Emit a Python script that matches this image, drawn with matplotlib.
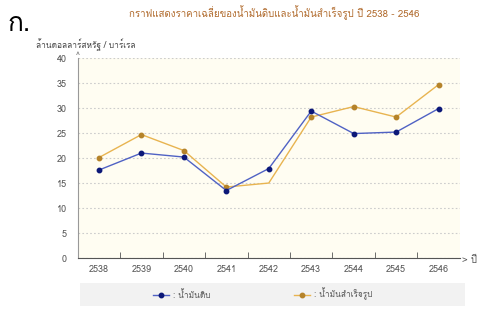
import matplotlib
matplotlib.use('Agg')
import matplotlib.pyplot as plt
from matplotlib import font_manager, ft2font
from matplotlib.patches import Rectangle

# find a font that has Thai glyphs
thai_font = None
for f in font_manager.fontManager.ttflist:
    try:
        if 0x0E01 in ft2font.FT2Font(f.fname).get_charmap():
            thai_font = f.name
            break
    except Exception:
        pass
if thai_font:
    plt.rcParams['font.family'] = [thai_font, 'DejaVu Sans']

years = ['2538', '2539', '2540', '2541', '2542', '2543', '2544', '2545', '2546']
crude = [17.6, 21.0, 20.2, 13.5, 17.9, 29.4, 24.9, 25.2, 29.9]
refined = [20.1, 24.7, 21.5, 14.2, 15.0, 28.2, 30.3, 28.2, 34.7]
labels = [': น้ำมันดิบ', ': น้ำมันสำเร็จรูป']
title = 'กราฟแสดงราคาเฉลี่ยของน้ำมันดิบและน้ำมันสำเร็จรูป ปี 2538 - 2546'
ylabel = 'ล้านดอลลาร์สหรัฐ / บาร์เรล'

fig = plt.figure(figsize=(4.78, 3.09), dpi=100)
ax = fig.add_axes([0.1626, 0.165, 0.7994, 0.647])
ax.set_facecolor('#fffdf2')

x = list(range(len(years)))
l1, = ax.plot(x, crude, color='#5062c4', lw=1, marker='o', ms=3.2,
              mfc='#0c1878', mec='#0c1878', label=labels[0], zorder=3)
l2, = ax.plot(x, refined, color='#e8b450', lw=1, marker='o', ms=3.2,
              mfc='#b5832a', mec='#b5832a', markevery=[0, 1, 2, 3, 5, 6, 7, 8],
              label=labels[1], zorder=2)

ax.set_xlim(-0.5, len(years) - 0.5)
ax.set_ylim(0, 40)
ax.set_yticks(range(0, 41, 5))
ax.set_xticks(x)
ax.set_xticklabels(years)
ax.set_xticks([i + 0.5 for i in x[:-1]], minor=True)
ax.tick_params(axis='x', which='major', length=0, labelsize=6.5, colors='#555555', pad=5)
ax.tick_params(axis='x', which='minor', length=4, direction='in', color='#555555')
ax.tick_params(axis='y', length=0, labelsize=6.5, colors='#555555', pad=8)
ax.grid(axis='y', ls=(0, (1.5, 2)), color='#cccccc', lw=0.8)
for s in ['top', 'right']:
    ax.spines[s].set_visible(False)
ax.spines['left'].set_color('#999999')
ax.spines['bottom'].set_color('#555555')

fig.text(0.015, 0.9, 'ก.', fontsize=19, color='black')
fig.text(0.574, 0.945, title, fontsize=7, color='#b06a2c', ha='center')
fig.text(0.075, 0.845, ylabel, fontsize=6, color='#444444')
fig.text(0.158, 0.812, '^', fontsize=6, color='#777777')
fig.text(0.966, 0.15, '> ปี', fontsize=7, color='#555555')

fig.patches.append(Rectangle((0.167, 0.01), 0.805, 0.075, transform=fig.transFigure,
                             facecolor='#f2f2f2', edgecolor='none', zorder=0))
leg = fig.legend(handles=[l1, l2], loc='center', bbox_to_anchor=(0.55, 0.048), ncol=2,
                 frameon=False, fontsize=6, columnspacing=10, handlelength=1.9,
                 handletextpad=0.5)
for t in leg.get_texts():
    t.set_color('#555555')

fig.savefig('out.png', dpi=100)
